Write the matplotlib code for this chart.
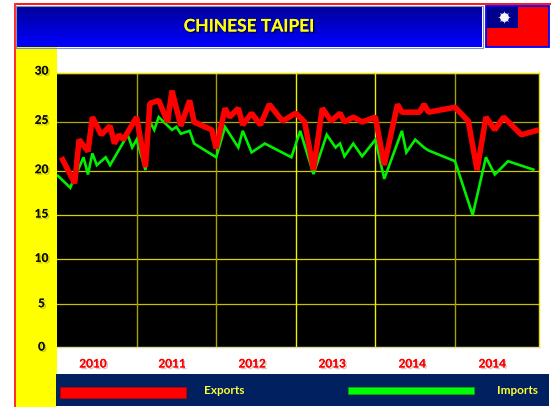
import numpy as np
import matplotlib
matplotlib.use('Agg')
import matplotlib.pyplot as plt
import matplotlib.patheffects as pe
from matplotlib.patches import Rectangle

W, H = 551, 407

# series, x is the position on the category axis (18 slots per year)
export_x = [1, 4, 5, 7, 8, 10, 12, 13, 14, 15, 18, 20, 21, 23, 25, 26, 28, 30, 31, 35, 36,
            38, 39, 41, 42, 44, 46, 48, 51, 54, 56, 58, 60, 62, 64, 65, 67, 69, 72,
            74, 77, 78, 82, 83, 84, 90, 93, 95, 97, 99, 101, 105, 109]
export_y = [21.4, 18.6, 23.2, 22.0, 25.5, 23.7, 24.6, 22.8, 23.7, 23.2, 25.5, 20.4, 26.9, 27.2, 25.0, 28.2, 24.6, 27.2, 25.0, 24.2, 22.3,
            26.4, 25.5, 26.4, 24.7, 25.9, 24.7, 26.8, 25.1, 25.9, 25.0, 20.1, 26.4, 25.1, 25.9, 25.0, 25.5, 25.0, 25.5,
            20.6, 26.8, 26.0, 26.0, 26.8, 26.0, 26.5, 25.1, 20.1, 25.5, 24.2, 25.5, 23.7, 24.2]
import_x = [0, 3, 6, 7, 8, 9, 11, 12, 16, 17, 18, 20, 21, 22, 23, 26, 27, 28, 30, 31, 36,
            38, 41, 42, 44, 47, 53, 55, 58, 61, 63, 64, 65, 67, 69, 72,
            74, 78, 79, 81, 83, 84, 90, 94, 97, 99, 102, 108]
import_y = [19.55, 18.1, 21.4, 19.6, 21.8, 20.6, 21.4, 20.6, 23.7, 22.4, 23.2, 20.1, 25.05, 24.2, 25.5, 24.2, 24.5, 23.8, 24.1, 22.8, 21.4,
            24.5, 22.4, 24.1, 21.9, 22.8, 21.4, 24.1, 19.65, 23.7, 22.4, 22.8, 21.5, 22.8, 21.5, 23.2,
            19.1, 24.1, 21.9, 23.2, 22.4, 22.1, 21.0, 15.0, 21.4, 19.6, 21.0, 20.1]

y_ticks = [0, 5, 10, 15, 20, 25, 30]
# the value axis is not evenly spaced, these are the heights of its gridlines
y_rows = [0, 43, 88, 132, 176, 225, 274]
year_labels = ['2010', '2011', '2012', '2013', '2014', '2014']
year_pos = [8.1, 26, 44.1, 62.2, 80.3, 98.4]
x_grid = [18, 36, 54, 72, 90]
x_grid_colors = ['#a8a000', '#a8a000', '#eeee00', '#eeee00', '#a8a000']
y_grid_colors = ['#c8c000', '#d8d000', '#d8d000', '#d0c800', '#b0a800', '#f0f000']


def to_row(v):
    return np.interp(v, y_ticks, y_rows)


def from_row(r):
    return np.interp(r, y_rows, y_ticks)


def box(x0, y0, x1, y1, **kw):
    # rectangle given in pixels from the top left corner
    bg.add_patch(Rectangle((x0, y0), x1 - x0, y1 - y0, **kw))


def gradient(x0, y0, x1, y1, top, bottom):
    c0 = np.array(matplotlib.colors.to_rgb(top))
    c1 = np.array(matplotlib.colors.to_rgb(bottom))
    t = np.linspace(0, 1, 64)[:, None, None]
    bg.imshow(c0 * (1 - t) + c1 * t, extent=(x0, x1, y1, y0), aspect='auto', zorder=2)


def shadow(color, alpha=0.6):
    return [pe.withSimplePatchShadow(offset=(1.2, -1.2), shadow_rgbFace=color, alpha=alpha), pe.Normal()]


fig = plt.figure(figsize=(W / 100, H / 100), dpi=100, facecolor='white')
plt.rcParams['font.family'] = ['Lato', 'DejaVu Sans']

# page furniture
bg = fig.add_axes([0, 0, 1, 1])
bg.set_xlim(0, W)
bg.set_ylim(H, 0)
bg.axis('off')

box(13.5, 3.4, 551, 5, color='#ff1a1a', lw=0)
box(13.5, 3.4, 15.5, 407, color='#ff3030', lw=0)
box(16, 47, 57, 407, color='#ffff00', lw=0)
box(56, 374, 549, 406, color='#002060', lw=0)

gradient(16, 6, 482, 47, '#00009a', '#0000ff')
box(15.5, 5.5, 482.5, 47.5, fill=False, ec='#8090b0', lw=0.8, zorder=3)
box(486, 6, 548.5, 47, color='#ff0000', lw=0, zorder=2)
box(486, 6, 548.5, 47, fill=False, ec='#0000ff', lw=1.3, zorder=3)
box(487, 7, 518, 27.5, color='#00008c', lw=0, zorder=3)
# flag sun
bg.scatter([503.5], [17], s=85, marker=(8, 1), color='#b8b8e0', lw=0, zorder=4)
bg.scatter([503.5], [17], s=40, marker='o', color='#f4f4ff', lw=0, zorder=5)

bg.text(249, 26.5, 'CHINESE TAIPEI', color='#ffff00', fontsize=12.5, fontweight='bold',
        ha='center', va='center', path_effects=shadow('#000040', 0.8), zorder=5)

# legend band
box(60, 387.3, 186, 397.8, color='#ff0000', ec='#c00000', lw=0.5, zorder=3)
box(348, 387.3, 474, 393.6, color='#00ff00', ec='#00b000', lw=0.5, zorder=3)
bg.text(224.5, 390, 'Exports', color='#ffff33', fontsize=8.5, fontweight='bold', ha='center', va='center', zorder=5)
bg.text(517.5, 390, 'Imports', color='#ffff33', fontsize=8.5, fontweight='bold', ha='center', va='center', zorder=5)

# chart
ax = fig.add_axes([57 / W, (H - 347) / H, (539 - 57) / W, (347 - 73) / H], facecolor='black')
ax.set_yscale('function', functions=(to_row, from_row))
ax.set_xlim(0, 109)
ax.set_ylim(0, 30)

for v, c in zip(y_ticks[1:], y_grid_colors):
    ax.axhline(v, color=c, lw=0.9, zorder=1)
for v, c in zip(x_grid, x_grid_colors):
    ax.axvline(v, color=c, lw=1.0, zorder=1)

ax.plot(import_x, import_y, color='#00f000', lw=1.9, solid_joinstyle='miter', solid_capstyle='butt', zorder=3)
ax.plot(export_x, export_y, color='#ff0000', lw=4.0, solid_joinstyle='bevel', solid_capstyle='butt', zorder=4)

ax.set_xticks([])
ax.set_yticks([])
ax.minorticks_off()
for s in ax.spines.values():
    s.set_color('#e8e000')
    s.set_linewidth(1.0)
ax.spines['bottom'].set_color('#d8d8a0')
ax.spines['left'].set_visible(False)

for v in y_ticks:
    ax.annotate(str(v), (0, v), xycoords=ax.get_yaxis_transform(), xytext=(-15.5, v / 15), textcoords='offset pixels',
                ha='center', va='center', fontsize=8.5, fontweight='bold', color='#101000',
                path_effects=shadow('#9a9a20', 0.5), annotation_clip=False)
for p, lab in zip(year_pos, year_labels):
    ax.annotate(lab, (p, 0), xycoords=ax.get_xaxis_transform(), xytext=(0, -17), textcoords='offset pixels',
                ha='center', va='center', fontsize=8.5, fontweight='bold', color='#ff0000',
                path_effects=shadow('#aaaaaa', 0.6), annotation_clip=False)

fig.savefig('out.png', dpi=100)
